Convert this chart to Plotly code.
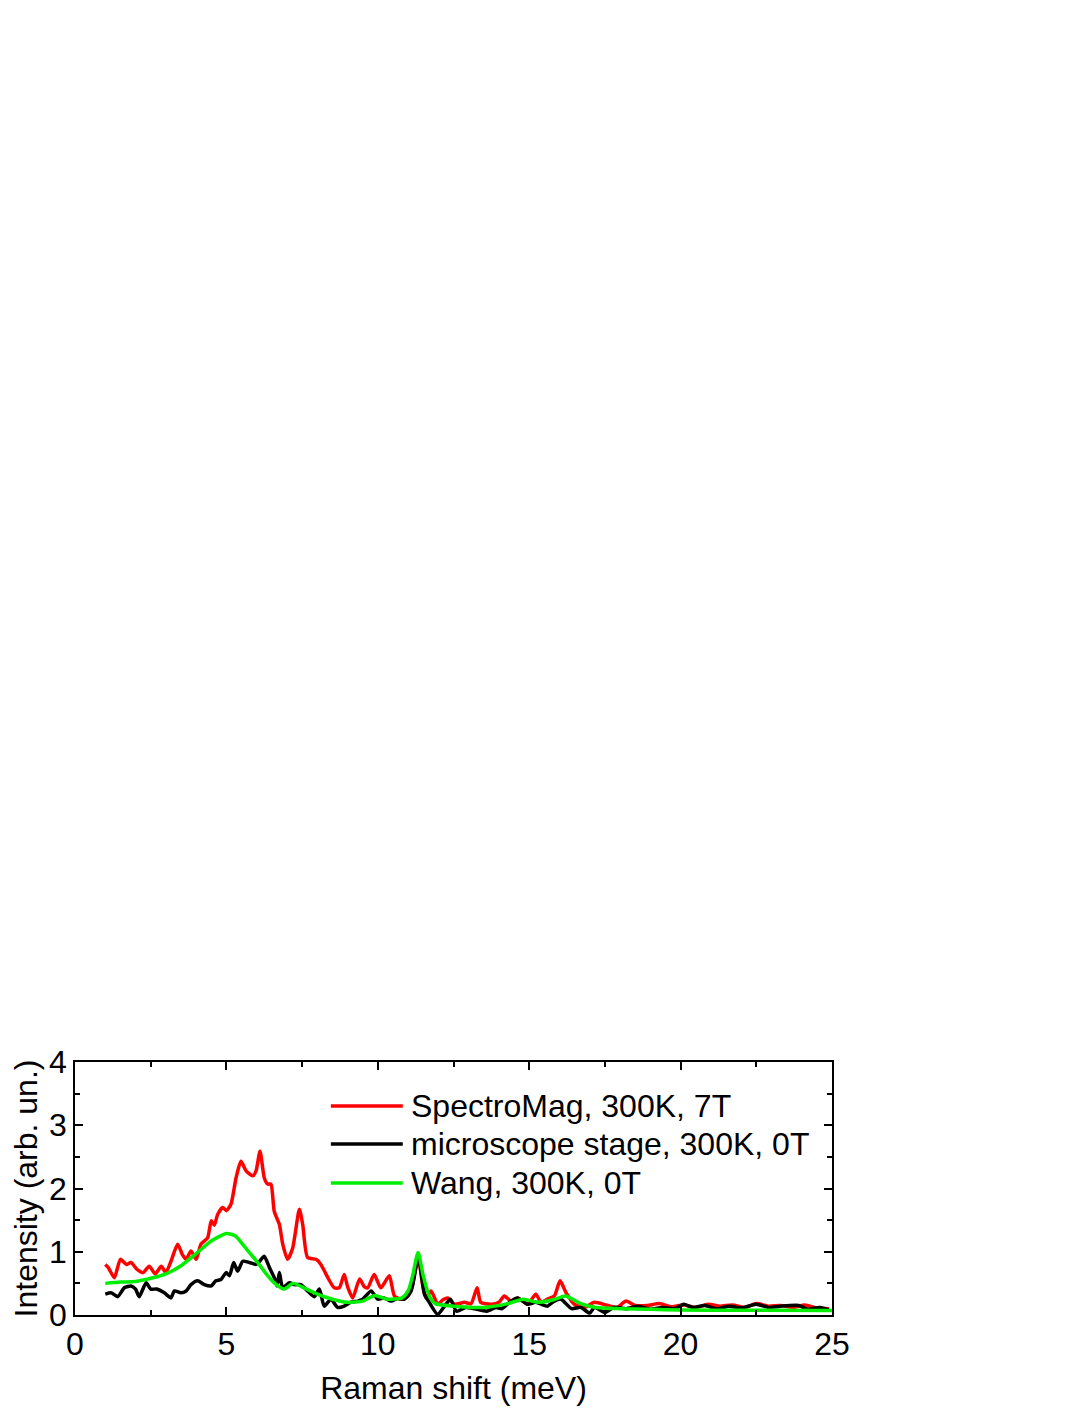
import plotly.graph_objects as go

# ---------------- data ----------------
red_x = [1.0, 1.1, 1.3, 1.5, 1.7, 1.85, 2.05, 2.25, 2.45, 2.65, 2.85, 3.0, 3.17, 3.39, 3.55,
         3.67, 3.83, 4.0, 4.16, 4.38, 4.5, 4.6, 4.71, 4.88, 5.0, 5.15, 5.32, 5.48, 5.65, 5.87,
         5.98, 6.11, 6.25, 6.36, 6.47, 6.58, 6.75, 6.86, 7.02, 7.19, 7.41, 7.52, 7.68, 7.96,
         8.12, 8.35, 8.56, 8.73, 8.89, 9.0, 9.17, 9.4, 9.55, 9.67, 9.88, 10.1, 10.38, 10.55,
         10.77, 10.99, 11.15, 11.32, 11.48, 11.59, 11.76, 11.98, 12.15, 12.31, 12.53, 12.86,
         13.08, 13.28, 13.4, 13.74, 14.0, 14.18, 14.4, 14.62, 14.95, 15.22, 15.39, 15.6, 15.83,
         16.02, 16.22, 16.49, 16.82, 17.15, 17.6, 17.9, 18.2, 18.5, 18.9, 19.3, 19.7, 20.1,
         20.5, 20.9, 21.3, 21.7, 22.1, 22.5, 22.9, 23.3, 23.7, 24.1, 24.5, 24.9]
red_y = [0.80, 0.75, 0.59, 0.88, 0.80, 0.83, 0.72, 0.67, 0.77, 0.65, 0.77, 0.67, 0.85, 1.12, 0.95,
         0.88, 1.01, 0.88, 1.12, 1.22, 1.49, 1.42, 1.59, 1.70, 1.65, 1.75, 2.17, 2.43, 2.28, 2.20,
         2.28, 2.59, 2.17, 2.07, 2.07, 1.64, 1.43, 1.12, 0.88, 1.06, 1.67, 1.43, 0.91, 0.88,
         0.80, 0.59, 0.43, 0.43, 0.64, 0.45, 0.27, 0.57, 0.45, 0.43, 0.64, 0.43, 0.62, 0.30,
         0.25, 0.30, 0.48, 0.96, 0.48, 0.27, 0.38, 0.17, 0.24, 0.27, 0.17, 0.20,
         0.18, 0.43, 0.20, 0.17, 0.20, 0.30, 0.22, 0.27, 0.17, 0.33, 0.20, 0.25, 0.30,
         0.54, 0.35, 0.17, 0.12, 0.20, 0.15, 0.12, 0.22, 0.15, 0.15, 0.18, 0.13, 0.16,
         0.12, 0.17, 0.14, 0.16, 0.12, 0.18, 0.14, 0.15, 0.12, 0.16, 0.11, 0.10]

black_x = [1.0, 1.2, 1.41, 1.63, 1.85, 2.0, 2.12, 2.35, 2.5, 2.7, 2.95, 3.17, 3.28, 3.5, 3.67,
           3.83, 4.05, 4.27, 4.5, 4.65, 4.82, 4.99, 5.1, 5.24, 5.37, 5.54, 5.76, 5.98, 6.1,
           6.25, 6.42, 6.58, 6.67, 6.75, 6.86, 7.08, 7.25, 7.46, 7.68, 7.9, 8.07, 8.23, 8.45,
           8.67, 8.89, 9.1, 9.34, 9.5, 9.78, 10.0, 10.2, 10.44, 10.65, 10.88, 11.1, 11.34,
           11.54, 11.7, 11.98, 12.25, 12.4, 12.6, 12.9, 13.2, 13.6, 13.9, 14.1, 14.4, 14.62,
           14.95, 15.2, 15.4, 15.6, 15.83, 16.05, 16.4, 16.7, 17.0, 17.15, 17.5, 17.8, 18.2,
           18.6, 19.0, 19.4, 19.8, 20.1, 20.4, 20.8, 21.2, 21.6, 22.0, 22.5, 22.9, 23.3,
           23.9, 24.2, 24.6, 24.9]
black_y = [0.33, 0.35, 0.29, 0.43, 0.46, 0.41, 0.29, 0.51, 0.41, 0.41, 0.35, 0.27, 0.38, 0.35, 0.38,
           0.48, 0.54, 0.48, 0.46, 0.54, 0.56, 0.67, 0.62, 0.83, 0.69, 0.85, 0.83, 0.80, 0.85,
           0.93, 0.75, 0.59, 0.46, 0.67, 0.43, 0.51, 0.48, 0.48, 0.38, 0.29, 0.41, 0.14, 0.25,
           0.12, 0.14, 0.20, 0.22, 0.25, 0.38, 0.25, 0.27, 0.22, 0.26, 0.25, 0.38, 0.91,
           0.33, 0.20, 0.01, 0.17, 0.25, 0.06, 0.12, 0.10, 0.06, 0.12, 0.10, 0.22, 0.27,
           0.17, 0.20, 0.17, 0.14, 0.22, 0.25, 0.10, 0.12, 0.03, 0.12, 0.04, 0.12, 0.10,
           0.14, 0.09, 0.12, 0.10, 0.17, 0.12, 0.15, 0.10, 0.14, 0.11, 0.17, 0.12, 0.14,
           0.15, 0.09, 0.12, 0.08]

green_x = [1.0, 1.5, 2.0, 2.5, 3.0, 3.5, 4.0, 4.5, 5.0, 5.3, 5.6, 6.0, 6.3, 6.6, 6.9, 7.2, 7.6,
           8.0, 8.5, 9.0, 9.5, 9.9, 10.3, 10.8, 11.0, 11.15, 11.33, 11.5, 11.7, 11.9, 12.5,
           13.5, 14.3, 14.8, 15.3, 15.8, 16.2, 16.7, 17.2, 18.0, 19.0, 20.0, 22.0, 25.0]
green_y = [0.50, 0.52, 0.53, 0.58, 0.65, 0.78, 0.97, 1.17, 1.29, 1.25, 1.08, 0.85, 0.66, 0.50,
           0.41, 0.50, 0.42, 0.33, 0.25, 0.20, 0.22, 0.31, 0.25, 0.27, 0.38, 0.62, 0.99, 0.62,
           0.30, 0.18, 0.14, 0.12, 0.18, 0.25, 0.20, 0.24, 0.30, 0.18, 0.12, 0.10, 0.09, 0.08,
           0.075, 0.07]

series_names = ["SpectroMag, 300K, 7T", "microscope stage, 300K, 0T", "Wang, 300K, 0T"]
series_colors = ["#ff0000", "#000000", "#00ee00"]

x_ticks = [0, 5, 10, 15, 20, 25]
y_ticks = [0, 1, 2, 3, 4]

FONT = "Liberation Sans, Arial, sans-serif"
FS = 32

fig = go.Figure()
for xs, ys, name, col in [(red_x, red_y, series_names[0], series_colors[0]),
                          (black_x, black_y, series_names[1], series_colors[1]),
                          (green_x, green_y, series_names[2], series_colors[2])]:
    fig.add_trace(go.Scatter(x=xs, y=ys, mode="lines", name=name,
                             line=dict(color=col, width=3.5, shape="spline", smoothing=0.6),
                             showlegend=False))

# manual legend (line samples + labels) placed in paper coords
leg_y = [0.826, 0.676, 0.522]
for name, col, yy in zip(series_names, series_colors, leg_y):
    fig.add_shape(type="line", xref="paper", yref="paper", x0=0.338, x1=0.433, y0=yy, y1=yy,
                  line=dict(color=col, width=3.5))
    fig.add_annotation(xref="paper", yref="paper", x=0.441, y=yy, text=name, showarrow=False,
                       xanchor="left", yanchor="middle", font=dict(size=FS, color="black", family=FONT))

axis_common = dict(showline=True, linecolor="black", linewidth=1.5, mirror="allticks",
                   ticks="inside", ticklen=8, tickwidth=1.5, tickcolor="black",
                   showgrid=False, zeroline=False,
                   tickfont=dict(size=FS, color="black", family=FONT))

fig.update_xaxes(range=[0, 25], tickvals=x_ticks, ticktext=[str(v) for v in x_ticks],
                 minor=dict(ticks="inside", ticklen=5, tickwidth=1.5, tickcolor="black", dtick=2.5),
                 title=dict(text="Raman shift (meV)", font=dict(size=FS, color="black", family=FONT),
                            standoff=15),
                 **axis_common)
fig.update_yaxes(range=[0, 4], tickvals=y_ticks, ticktext=[str(v) for v in y_ticks],
                 minor=dict(ticks="inside", ticklen=5, tickwidth=1.5, tickcolor="black", dtick=0.5),
                 title=dict(text="Intensity (arb. un.)", font=dict(size=FS, color="black", family=FONT),
                            standoff=2),
                 **axis_common)

fig.update_layout(width=1090, height=1410, plot_bgcolor="white", paper_bgcolor="white",
                  margin=dict(l=67, r=266, t=1054, b=103), showlegend=False,
                  font=dict(family=FONT, color="black"))

fig.write_html("out.html")
